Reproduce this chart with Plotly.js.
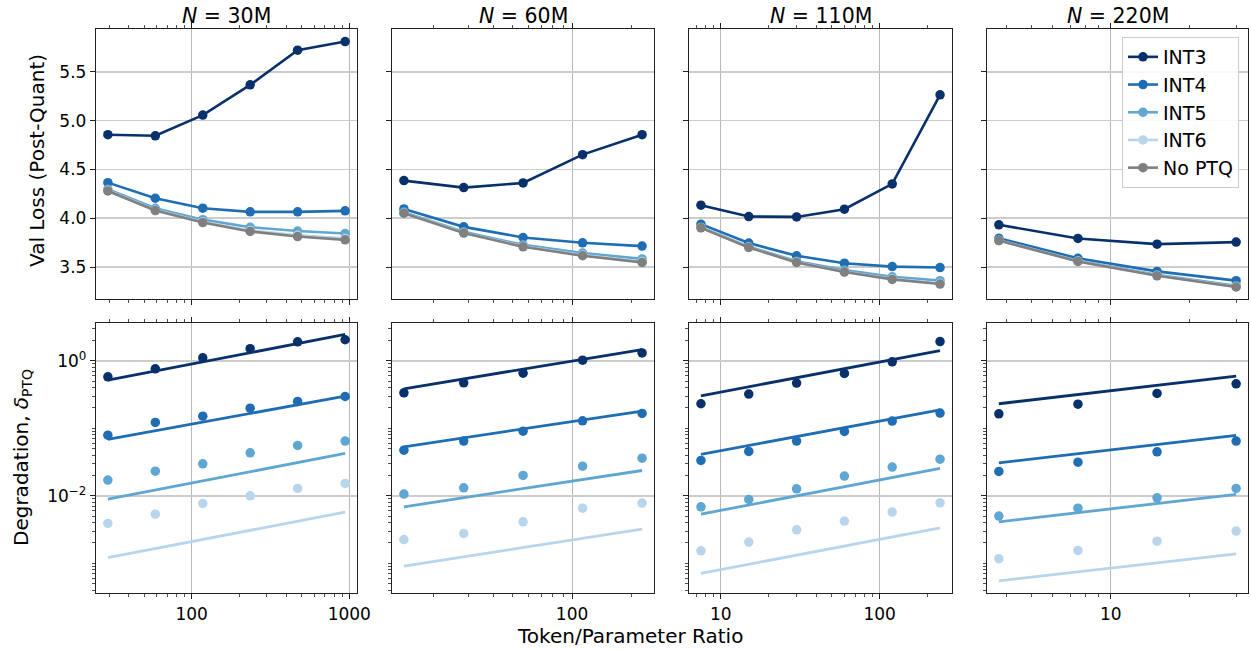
<!DOCTYPE html>
<html>
<head>
<meta charset="utf-8">
<script src="https://cdn.plot.ly/plotly-3.0.1.min.js"></script>
<style>html,body{margin:0;padding:0;background:#fff;} #chart{width:1251px;height:650px;}</style>
</head>
<body>
<div id="chart"></div>
<script>
// ---------------- DATA ----------------
const seriesNames = ["INT3", "INT4", "INT5", "INT6", "No PTQ"];
const panelTitles = ["30M", "60M", "110M", "220M"];

// Token/Parameter ratios per model size
const ratio30  = [29.4, 58.8, 117.6, 235, 470, 941];
const ratio60  = [14.1, 28.3, 56.5, 113, 226];
const ratio110 = [7.5, 15, 30, 60, 120, 240];
const ratio220 = [3.75, 7.5, 15, 30];

// Val loss (post-quant), N = 30M
const loss30_int3  = [4.856, 4.845, 5.057, 5.367, 5.722, 5.810];
const loss30_int4  = [4.365, 4.205, 4.103, 4.066, 4.066, 4.076];
const loss30_int5  = [4.297, 4.102, 3.986, 3.908, 3.869, 3.844];
const loss30_int6  = [4.284, 4.084, 3.964, 3.875, 3.826, 3.794];
const loss30_noptq = [4.280, 4.079, 3.956, 3.865, 3.813, 3.779];
// N = 60M
const loss60_int3  = [4.386, 4.314, 4.362, 4.652, 4.856];
const loss60_int4  = [4.096, 3.912, 3.803, 3.749, 3.715];
const loss60_int5  = [4.063, 3.861, 3.728, 3.644, 3.584];
const loss60_int6  = [4.054, 3.851, 3.712, 3.623, 3.556];
const loss60_noptq = [4.052, 3.848, 3.708, 3.616, 3.548];
// N = 110M
const loss110_int3  = [4.134, 4.018, 4.014, 4.093, 4.352, 5.265];
const loss110_int4  = [3.940, 3.746, 3.615, 3.540, 3.505, 3.495];
const loss110_int5  = [3.909, 3.710, 3.560, 3.469, 3.401, 3.361];
const loss110_int6  = [3.904, 3.703, 3.550, 3.453, 3.380, 3.334];
const loss110_noptq = [3.902, 3.701, 3.547, 3.449, 3.374, 3.326];
// N = 220M
const loss220_int3  = [3.933, 3.793, 3.735, 3.756];
const loss220_int4  = [3.795, 3.590, 3.456, 3.361];
const loss220_int5  = [3.777, 3.565, 3.420, 3.309];
const loss220_int6  = [3.773, 3.560, 3.413, 3.299];
const loss220_noptq = [3.772, 3.558, 3.411, 3.296];

// Degradation delta_PTQ (points)
const deg30_int3 = [0.58, 0.76, 1.107, 1.51, 1.91, 2.05];
const deg30_int4 = [0.079, 0.122, 0.151, 0.199, 0.25, 0.296];
const deg30_int5 = [0.0171, 0.0232, 0.0298, 0.0433, 0.0557, 0.0646];
const deg30_int6 = [0.00389, 0.00535, 0.00769, 0.0100, 0.01285, 0.01524];
const deg60_int3 = [0.336, 0.472, 0.656, 1.02, 1.31];
const deg60_int4 = [0.0474, 0.0646, 0.0908, 0.129, 0.166];
const deg60_int5 = [0.0106, 0.01315, 0.0200, 0.0275, 0.0361];
const deg60_int6 = [0.00225, 0.00277, 0.00412, 0.00656, 0.00779];
const deg110_int3 = [0.231, 0.321, 0.467, 0.649, 0.966, 1.93];
const deg110_int4 = [0.0334, 0.0454, 0.0646, 0.0898, 0.128, 0.168];
const deg110_int5 = [0.00687, 0.00883, 0.0127, 0.0196, 0.0266, 0.0349];
const deg110_int6 = [0.00153, 0.00206, 0.00313, 0.00422, 0.00573, 0.00787];
const deg220_int3 = [0.164, 0.228, 0.328, 0.456];
const deg220_int4 = [0.0229, 0.0315, 0.0449, 0.0646];
const deg220_int5 = [0.0050, 0.00656, 0.00933, 0.01285];
const deg220_int6 = [0.00117, 0.00155, 0.00213, 0.0030];

// Fitted power-law lines: value at first and last ratio
const fit30_int3 = [0.517, 2.46];
const fit30_int4 = [0.0684, 0.30];
const fit30_int5 = [0.00893, 0.0424];
const fit30_int6 = [0.00121, 0.00573];
const fit60_int3 = [0.385, 1.47];
const fit60_int4 = [0.0532, 0.18];
const fit60_int5 = [0.00687, 0.0237];
const fit60_int6 = [0.000908, 0.00321];
const fit110_int3 = [0.303, 1.42];
const fit110_int4 = [0.041, 0.188];
const fit110_int5 = [0.00535, 0.0254];
const fit110_int6 = [0.000707, 0.00336];
const fit220_int3 = [0.231, 0.593];
const fit220_int4 = [0.0308, 0.0784];
const fit220_int5 = [0.00412, 0.0105];
const fit220_int6 = [0.000551, 0.00138];

// X tick labels per panel
const xTicks30 = [100, 1000];
const xTicks60 = [100];
const xTicks110 = [10, 100];
const xTicks220 = [10];
const yLogTicks = [0.01, 1];
const yLogTickText = ["10<sup>−2</sup>", "10<sup>0</sup>"];
const yLinTicks = [3.5, 4.0, 4.5, 5.0, 5.5];

// ---------------- BUILD ----------------
const colors = ["#08306b", "#1f6db2", "#5fa6d2", "#b9d5ec", "#808080"];
const FONT = "DejaVu Sans, Liberation Sans, sans-serif";
const TICK = 17, LABEL = 20;

const panels = [
  {ratio: ratio30, loss: [loss30_int3, loss30_int4, loss30_int5, loss30_int6, loss30_noptq],
   deg: [deg30_int3, deg30_int4, deg30_int5, deg30_int6], fit: [fit30_int3, fit30_int4, fit30_int5, fit30_int6], ticks: xTicks30},
  {ratio: ratio60, loss: [loss60_int3, loss60_int4, loss60_int5, loss60_int6, loss60_noptq],
   deg: [deg60_int3, deg60_int4, deg60_int5, deg60_int6], fit: [fit60_int3, fit60_int4, fit60_int5, fit60_int6], ticks: xTicks60},
  {ratio: ratio110, loss: [loss110_int3, loss110_int4, loss110_int5, loss110_int6, loss110_noptq],
   deg: [deg110_int3, deg110_int4, deg110_int5, deg110_int6], fit: [fit110_int3, fit110_int4, fit110_int5, fit110_int6], ticks: xTicks110},
  {ratio: ratio220, loss: [loss220_int3, loss220_int4, loss220_int5, loss220_int6, loss220_noptq],
   deg: [deg220_int3, deg220_int4, deg220_int5, deg220_int6], fit: [fit220_int3, fit220_int4, fit220_int5, fit220_int6], ticks: xTicks220}
];

const W = 1251, H = 650;
const xPix = [[96, 357], [392, 654], [689, 952], [987, 1248]];
const topPix = [29, 299], botPix = [323, 593];
const yDomTop = [1 - topPix[1] / H, 1 - topPix[0] / H];
const yDomBot = [1 - botPix[1] / H, 1 - botPix[0] / H];

function logMinor(lo, hi, majors) {
  const out = [];
  for (let e = lo; e <= hi; e++) {
    for (let m = 1; m <= 9; m++) {
      const v = m * Math.pow(10, e);
      if (!majors.some(t => Math.abs(t - v) / v < 1e-9)) out.push(v);
    }
  }
  return out;
}

const traces = [];
const layout = {
  width: W, height: H,
  margin: {l: 0, r: 0, t: 0, b: 0},
  paper_bgcolor: "#fff", plot_bgcolor: "#fff",
  font: {family: FONT, size: TICK, color: "#000"},
  showlegend: true,
  legend: {
    x: 1239 / W, xanchor: "right", y: 1 - 37 / H, yanchor: "top",
    bgcolor: "rgba(255,255,255,0.85)", bordercolor: "#cccccc", borderwidth: 1,
    font: {family: FONT, size: 19, color: "#000"},
    itemwidth: 30, tracegroupgap: 0
  },
  annotations: []
};

panels.forEach((p, i) => {
  const top = i + 1, bot = i + 5;
  const xt = "x" + (top === 1 ? "" : top), yt = "y" + (top === 1 ? "" : top);
  const xb = "x" + bot, yb = "y" + bot;
  const dom = [xPix[i][0] / W, xPix[i][1] / W];
  const lr = [Math.log10(p.ratio[0]), Math.log10(p.ratio[p.ratio.length - 1])];
  const pad = (lr[1] - lr[0]) * 0.05;
  const xr = [lr[0] - pad, lr[1] + pad];
  const minorX = logMinor(Math.floor(xr[0]) , Math.ceil(xr[1]), p.ticks);

  const xCommon = {
    type: "log", range: xr, domain: dom,
    tickmode: "array", tickvals: p.ticks, ticktext: p.ticks.map(String),
    ticks: "outside", ticklen: 5, tickwidth: 1, tickcolor: "#222",
    showline: true, linecolor: "#222", linewidth: 1.2, mirror: "ticks",
    showgrid: true, gridcolor: "#b8b8b8", gridwidth: 1,
    zeroline: false,
    minor: {tickmode: "array", tickvals: minorX, ticks: "outside", ticklen: 2.5, tickwidth: 0.8, tickcolor: "#222", showgrid: false},
    tickfont: {family: FONT, size: TICK, color: "#000"}
  };
  layout["xaxis" + (top === 1 ? "" : top)] = Object.assign({}, xCommon, {anchor: yt, showticklabels: false, matches: xb});
  layout["xaxis" + bot] = Object.assign({}, xCommon, {anchor: yb, showticklabels: true});

  layout["yaxis" + (top === 1 ? "" : top)] = {
    domain: yDomTop, anchor: xt, range: [3.173, 5.939],
    tickmode: "array", tickvals: yLinTicks, ticktext: yLinTicks.map(v => v.toFixed(1)),
    ticks: "outside", ticklen: 5, tickcolor: "#222",
    showline: true, linecolor: "#222", linewidth: 1.2, mirror: true,
    showgrid: true, gridcolor: "#cccccc", gridwidth: 1.6, zeroline: false,
    showticklabels: i === 0,
    tickfont: {family: FONT, size: TICK, color: "#000"}
  };
  layout["yaxis" + bot] = {
    domain: yDomBot, anchor: xb, type: "log", range: [-3.44, 0.56],
    tickmode: "array", tickvals: yLogTicks, ticktext: yLogTickText,
    ticks: "outside", ticklen: 5, tickcolor: "#222",
    showline: true, linecolor: "#222", linewidth: 1.2, mirror: true,
    showgrid: true, gridcolor: "#cccccc", gridwidth: 1.6, zeroline: false,
    minor: {tickmode: "array", tickvals: logMinor(-4, 0, yLogTicks), ticks: "outside", ticklen: 2.5, tickwidth: 0.8, tickcolor: "#222", showgrid: false},
    showticklabels: i === 0,
    tickfont: {family: FONT, size: TICK, color: "#000"}
  };

  // top row: loss curves
  p.loss.forEach((arr, s) => {
    traces.push({
      type: "scatter", mode: "lines+markers", x: p.ratio, y: arr,
      xaxis: xt, yaxis: yt, name: seriesNames[s],
      line: {color: colors[s], width: 2.6},
      marker: {color: colors[s], size: 9.5},
      showlegend: i === 3, legendrank: s + 1
    });
  });
  // bottom row: degradation points & fits
  p.deg.forEach((arr, s) => {
    traces.push({
      type: "scatter", mode: "markers", x: p.ratio, y: arr,
      xaxis: xb, yaxis: yb, name: seriesNames[s] + " pts",
      marker: {color: colors[s], size: 9.5}, showlegend: false
    });
    traces.push({
      type: "scatter", mode: "lines",
      x: [p.ratio[0], p.ratio[p.ratio.length - 1]], y: p.fit[s],
      xaxis: xb, yaxis: yb, name: seriesNames[s] + " fit",
      line: {color: colors[s], width: 2.8}, showlegend: false
    });
  });

  layout.annotations.push({
    xref: "paper", yref: "paper", x: (dom[0] + dom[1]) / 2, y: 1 - 16 / H,
    xanchor: "center", yanchor: "middle", showarrow: false,
    text: "<i>N</i> = " + panelTitles[i], font: {family: FONT, size: 20.5, color: "#000"}
  });
});

layout.annotations.push({
  xref: "paper", yref: "paper", x: 37 / W, y: 1 - 161 / H, textangle: -90,
  xanchor: "center", yanchor: "middle", showarrow: false,
  text: "Val Loss (Post-Quant)", font: {family: FONT, size: LABEL, color: "#000"}
});
layout.annotations.push({
  xref: "paper", yref: "paper", x: 22 / W, y: 1 - 458 / H, textangle: -90,
  xanchor: "center", yanchor: "middle", showarrow: false,
  text: "Degradation, <i>δ</i><sub>PTQ</sub>", font: {family: FONT, size: LABEL, color: "#000"}
});
layout.annotations.push({
  xref: "paper", yref: "paper", x: 630 / W, y: 1 - 636 / H,
  xanchor: "center", yanchor: "middle", showarrow: false,
  text: "Token/Parameter Ratio", font: {family: FONT, size: LABEL, color: "#000"}
});

Plotly.newPlot("chart", traces, layout, {displayModeBar: false, staticPlot: true});
</script>
</body>
</html>
